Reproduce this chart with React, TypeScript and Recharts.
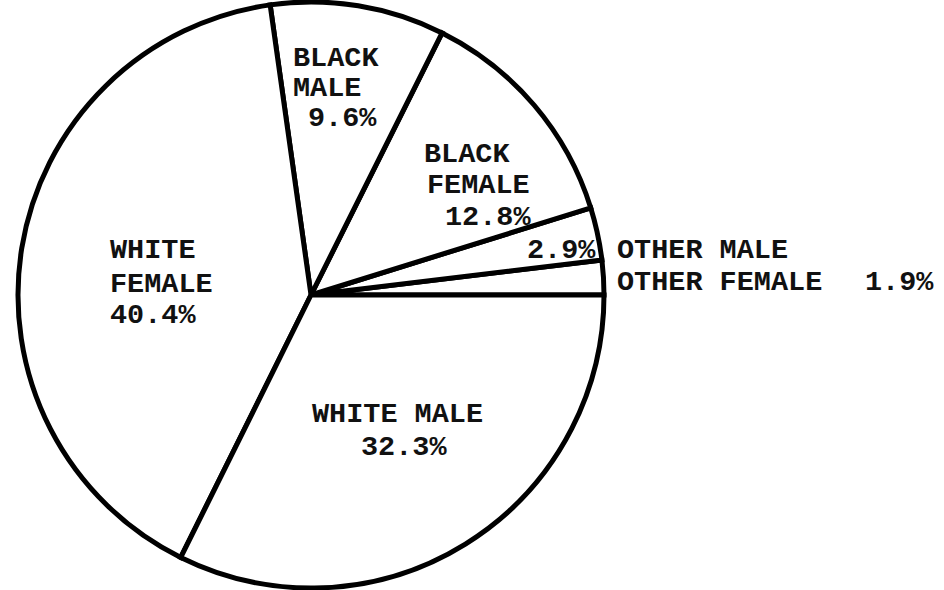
import { PieChart, Pie, Cell } from 'recharts';

const groups = ['OTHER FEMALE', 'OTHER MALE', 'BLACK FEMALE', 'BLACK MALE', 'WHITE FEMALE', 'WHITE MALE'];
const shares = [1.9, 2.9, 12.8, 9.6, 40.4, 32.3];

// how each slice's label is broken into lines, and where they go relative to the pie centre
const labelLines: Record<string, { text: string; dx: number; dy: number }[]> = {
  'OTHER FEMALE': [
    { text: 'OTHER FEMALE', dx: 306, dy: -5 },
    { text: '%', dx: 554, dy: -5 },
  ],
  'OTHER MALE': [
    { text: '%', dx: 216, dy: -37 },
    { text: 'OTHER MALE', dx: 306, dy: -37 },
  ],
  'BLACK FEMALE': [
    { text: 'BLACK', dx: 113, dy: -133 },
    { text: 'FEMALE', dx: 116, dy: -102 },
    { text: '%', dx: 134, dy: -70 },
  ],
  'BLACK MALE': [
    { text: 'BLACK', dx: -18, dy: -229 },
    { text: 'MALE', dx: -18, dy: -199 },
    { text: '%', dx: -3, dy: -169 },
  ],
  'WHITE FEMALE': [
    { text: 'WHITE', dx: -201, dy: -37 },
    { text: 'FEMALE', dx: -201, dy: -3 },
    { text: '%', dx: -201, dy: 28 },
  ],
  'WHITE MALE': [
    { text: 'WHITE MALE', dx: 1, dy: 127 },
    { text: '%', dx: 50, dy: 160 },
  ],
};

const data = groups.map((g, i) => ({ name: g, value: shares[i] }));

const FONT = "'Liberation Mono', 'DejaVu Sans Mono', monospace";

function SliceLabel(props: any) {
  const { cx, cy, name, value } = props;
  const lines = labelLines[name] || [];
  return (
    <g>
      {lines.map((l, i) => (
        <text
          key={i}
          x={cx + l.dx}
          y={cy + l.dy}
          fontFamily={FONT}
          fontSize={28.5}
          fontWeight="bold"
          fill="#111"
          textAnchor="start"
        >
          {l.text === '%' ? `${value}%` : l.text}
        </text>
      ))}
    </g>
  );
}

export default function App() {
  return (
    <div style={{ position: 'absolute', left: 0, top: 0, width: 944, height: 590, background: '#fff' }}>
      <PieChart width={944} height={590} margin={{ top: 0, right: 0, bottom: 0, left: 0 }}>
        <Pie
          data={data}
          dataKey="value"
          nameKey="name"
          cx={311}
          cy={295}
          outerRadius={293}
          startAngle={0}
          endAngle={360}
          stroke="#000"
          strokeWidth={5}
          label={SliceLabel}
          labelLine={false}
          isAnimationActive={false}
        >
          {data.map((d) => (
            <Cell key={d.name} fill="#fff" stroke="#000" strokeWidth={5} />
          ))}
        </Pie>
      </PieChart>
    </div>
  );
}
